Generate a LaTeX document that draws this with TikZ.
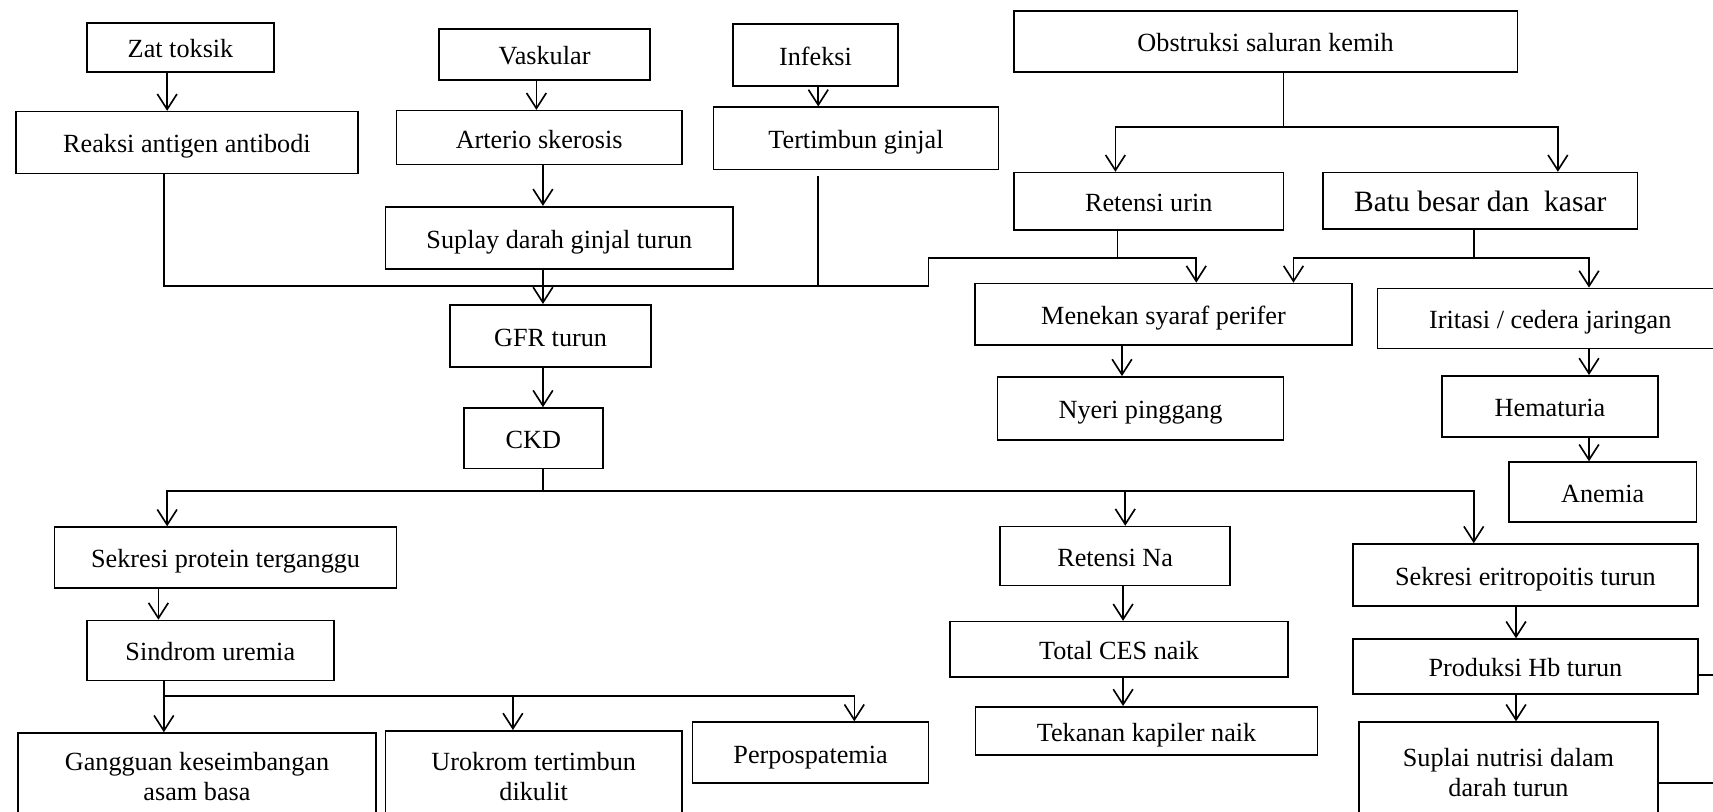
\documentclass[tikz,border=0pt]{standalone}
\usepackage{fontspec}
\setmainfont{Liberation Serif}
\usetikzlibrary{arrows.meta}
\tikzset{
  bx/.style={draw, rectangle, line width=1.5pt, inner sep=0pt, align=center, font=\fontsize{24}{27.6}\selectfont},
  oneline/.style={text height=21.5pt, text depth=2.5pt},
  ln/.style={line width=1.5pt},
  arr/.style={line width=1.5pt, -{Straight Barb[length=14pt,width=18pt]}},
}
\newcommand{\mkbox}[6]{\node[bx, oneline, minimum width={(#4-(#2))*1pt}, minimum height={(#5-(#3))*1pt}] (#1) at ({(#2+#4)/2},{(#3+#5)/2}) {#6};}
\newcommand{\mkboxm}[6]{\node[bx, minimum width={(#4-(#2))*1pt}, minimum height={(#5-(#3))*1pt}] (#1) at ({(#2+#4)/2},{(#3+#5)/2}) {#6};}
\begin{document}
\begin{tikzpicture}[x=1pt,y=-1pt]
\useasboundingbox (0,0) rectangle (1568,743);
\clip (0,0) rectangle (1568,743);
% boxes
\mkbox{zat}{79.5}{21}{251}{66}{Zat toksik}
\mkbox{reaksi}{14.7}{102.2}{327.5}{158.7}{Reaksi antigen antibodi}
\mkbox{vask}{402}{26.8}{595}{73.2}{Vaskular}
\mkbox{art}{363}{101.3}{624}{150.7}{Arterio skerosis}
\mkbox{sup}{353}{189.2}{671}{246.2}{Suplay darah ginjal turun}
\mkbox{inf}{671}{22}{822}{79}{Infeksi}
\mkbox{tert}{653}{98.2}{914}{155}{Tertimbun ginjal}
\mkbox{obs}{928}{10}{1389}{66.2}{Obstruksi saluran kemih}
\mkbox{retu}{928}{158}{1175}{210.5}{Retensi urin}
\mkbox{batu}{1211}{158}{1499}{209.5}{\fontsize{27}{31}\selectfont Batu besar dan\ \ kasar}
\mkbox{men}{892.5}{259.5}{1237.5}{316}{Menekan syaraf perifer}
\mkbox{nyeri}{913}{345}{1175}{403}{Nyeri pinggang}
\mkbox{irit}{1261}{264}{1577}{319}{Iritasi / cedera jaringan}
\mkbox{hema}{1320}{344}{1517.6}{400}{Hematuria}
\mkbox{anem}{1381}{423}{1553}{478}{Anemia}
\mkbox{gfr}{412}{279}{596}{336}{GFR turun}
\mkbox{ckd}{424.5}{373.5}{552}{429}{CKD}
\mkbox{sekp}{50}{482.5}{363}{538}{Sekresi protein terganggu}
\mkbox{sind}{79.5}{568}{305.5}{623}{Sindrom uremia}
\mkboxm{gang}{16.6}{671}{344}{751}{Gangguan keseimbangan\\asam basa}
\mkboxm{urok}{353}{669}{624}{752}{Urokrom tertimbun\\dikulit}
\mkbox{perp}{634}{661}{850}{717}{Perpospatemia}
\mkbox{retna}{915.5}{482}{1126}{536}{Retensi Na}
\mkbox{ces}{869.6}{569}{1179}{619.6}{Total CES naik}
\mkbox{tek}{893}{647}{1206}{691}{Tekanan kapiler naik}
\mkbox{sekeri}{1238.6}{498}{1554}{554.6}{Sekresi eritropoitis turun}
\mkbox{prod}{1238.6}{585}{1554}{635}{Produksi Hb turun}
\mkboxm{supl}{1244}{661}{1517.6}{753}{Suplai nutrisi dalam\\darah turun}
% helper coordinates
\coordinate (t1) at (749,161);
\coordinate (h1) at (850,262);
\coordinate (h2) at (1023,236);
\coordinate (c1) at (497,449.5);
\coordinate (c2) at (1030,449.5);
\coordinate (o1) at (1175,116);
\coordinate (b1) at (1349,236);
\coordinate (s1) at (150,637);
\coordinate (e1) at (1600,618);
\coordinate (e2) at (1600,717);
% connectors
\draw[arr] (153,0 |- zat.south) -- (153,0 |- reaksi.north);
\draw[arr] (491,0 |- vask.south) -- (491,0 |- art.north);
\draw[arr] (497,0 |- art.south) -- (497,0 |- sup.north);
\draw[arr] (749,0 |- inf.south) -- (749,0 |- tert.north);
\draw[arr] (150,0 |- reaksi.south) |- (h1) |- (1095,236) -- (1095,0 |- men.north);
\draw[ln] (t1) -- (749,0 |- h1);
\draw[arr] (497,0 |- sup.south) -- (497,0 |- gfr.north);
\draw[ln] (1023,0 |- retu.south) -- (h2);
\draw[arr] (497,0 |- gfr.south) -- (497,0 |- ckd.north);
\draw[ln] (497,0 |- ckd.south) -- (c1);
\draw[arr] (c1) -| (153,0 |- sekp.north);
\draw[arr] (c1) -| (1349,0 |- sekeri.north);
\draw[arr] (c2) -- (1030,0 |- retna.north);
\draw[ln] (1175,0 |- obs.south) -- (o1);
\draw[arr] (o1) -| (1021,0 |- retu.north);
\draw[arr] (o1) -| (1426,0 |- batu.north);
\draw[ln] (1349,0 |- batu.south) -- (b1);
\draw[arr] (b1) -| (1184,0 |- men.north);
\draw[arr] (b1) -| (1454.5,0 |- irit.north);
\draw[arr] (1027,0 |- men.south) -- (1027,0 |- nyeri.north);
\draw[arr] (1454.5,0 |- irit.south) -- (1454.5,0 |- hema.north);
\draw[arr] (1454.5,0 |- hema.south) -- (1454.5,0 |- anem.north);
\draw[arr] (145,0 |- sekp.south) -- (145,0 |- sind.north);
\draw[arr] (150,0 |- sind.south) -- (150,0 |- gang.north);
\draw[arr] (s1) -| (469.5,0 |- urok.north);
\draw[arr] (s1) -| (782,0 |- perp.north);
\draw[arr] (1028,0 |- retna.south) -- (1028,0 |- ces.north);
\draw[arr] (1028,0 |- ces.south) -- (1028,0 |- tek.north);
\draw[arr] (1387.7,0 |- sekeri.south) -- (1387.7,0 |- prod.north);
\draw[arr] (1387.7,0 |- prod.south) -- (1387.7,0 |- supl.north);
\draw[ln] (prod.east |- e1) -- (e1);
\draw[ln] (supl.east |- e2) -- (e2);
\end{tikzpicture}
\end{document}
